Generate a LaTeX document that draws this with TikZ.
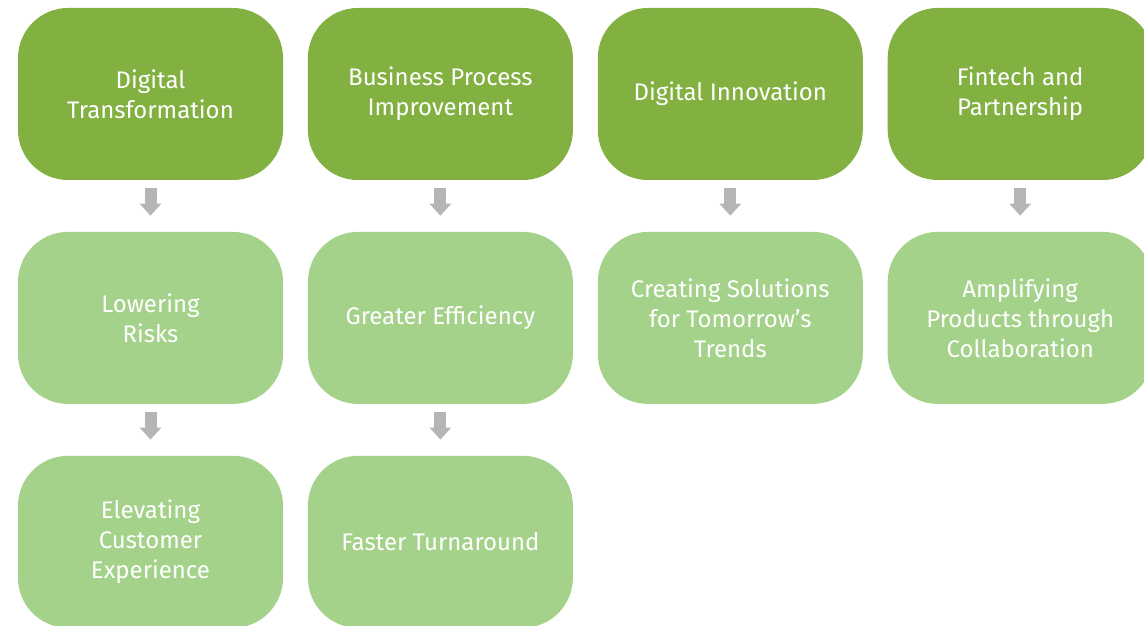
\documentclass[tikz,border=0pt]{standalone}
\usepackage{fontspec}
\setmainfont{Fira Sans}
\usetikzlibrary{positioning, arrows.meta}
\definecolor{darkgreen}{HTML}{82B142}
\definecolor{lightgreen}{HTML}{A5D28A}
\definecolor{arrowgray}{HTML}{B3B5B7}

\begin{document}
\begin{tikzpicture}[x=1pt, y=1pt, node distance=51.5pt and 24.5pt,
		box/.style={rounded corners=50pt, minimum width=265pt, minimum height=172pt, inner sep=0pt, text=white, align=center, font=\fontsize{24}{30}\selectfont},
		head/.style={box, fill=darkgreen},
		result/.style={box, fill=lightgreen},
		flow/.style={draw=arrowgray, line width=12pt, -{Triangle[width=21pt, length=12pt]}, shorten <=8pt, shorten >=16pt}]
			\useasboundingbox (0,0) rectangle (1144,625);
			
			% top row
			\node[head] (trans) at (150.5,531) {Digital\\Transformation};
			\node[head, right=of trans] (process) {Business Process\\Improvement};
			\node[head, right=of process] (innov) {Digital Innovation};
			\node[head, right=of innov] (fintech) {Fintech and\\Partnership};
			
			% results
			\node[result, below=of trans] (risks) {Lowering\\Risks};
			\node[result, below=of risks] (custexp) {Elevating\\Customer\\Experience};
			\node[result, below=of process] (effic) {Greater Efficiency};
			\node[result, below=of effic] (turn) {Faster Turnaround};
			\node[result, below=of innov] (trends) {Creating Solutions\\for Tomorrow's\\Trends};
			\node[result, below=of fintech] (collab) {Amplifying\\Products through\\Collaboration};
			
			\draw[flow] (trans) -- (risks);
			\draw[flow] (risks) -- (custexp);
			\draw[flow] (process) -- (effic);
			\draw[flow] (effic) -- (turn);
			\draw[flow] (innov) -- (trends);
			\draw[flow] (fintech) -- (collab);
\end{tikzpicture}
\end{document}
